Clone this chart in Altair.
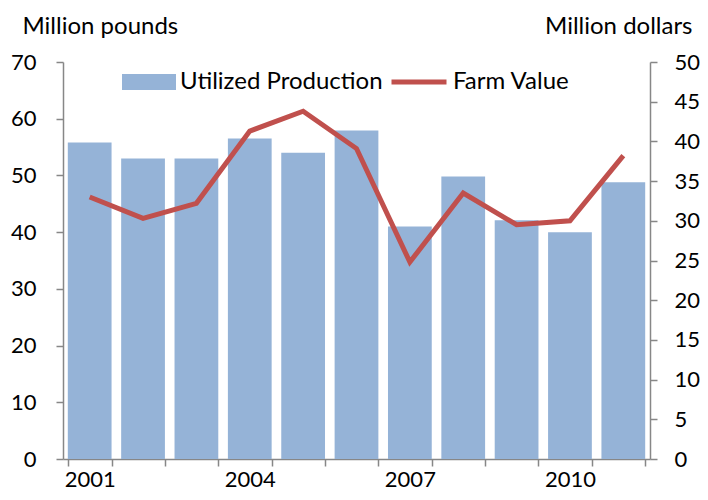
import altair as alt
import pandas as pd

years = ["2001", "2002", "2003", "2004", "2005", "2006", "2007", "2008", "2009", "2010", "2011"]
production = [55.8, 53.0, 53.0, 56.5, 54.0, 57.9, 41.0, 49.8, 42.1, 40.0, 48.8]
farm_value = [33.0, 30.3, 32.2, 41.3, 43.8, 39.1, 24.8, 33.5, 29.5, 30.0, 38.2]
shown_years = ["2001", "2004", "2007", "2010"]
left_ticks = [0, 10, 20, 30, 40, 50, 60, 70]
right_ticks = [0, 5, 10, 15, 20, 25, 30, 35, 40, 45, 50]
bar_name = "Utilized Production"
line_name = "Farm Value"

df = pd.DataFrame({
    "year": years,
    "production": production,
    "value": farm_value,
    "s1": [bar_name] * len(years),
    "s2": [line_name] * len(years),
})

FONT = "Lato"
GREY = "#878787"
label_list = "[" + ",".join("'%s'" % y for y in shown_years) + "]"

x = alt.X(
    "year:O",
    scale=alt.Scale(paddingInner=0.18, paddingOuter=0.09),
    axis=alt.Axis(
        title=None,
        tickBand="extent",
        labelAngle=0,
        labelExpr="indexof(%s, datum.label) >= 0 ? datum.label : ''" % label_list,
        labelOverlap=False,
        labelPadding=3,
        tickSize=7,
    ),
)

bars = alt.Chart(df).mark_bar(color="#95B3D7").encode(
    x=x,
    y=alt.Y(
        "production:Q",
        scale=alt.Scale(domain=[0, 70], nice=False),
        axis=alt.Axis(
            values=left_ticks,
            title="Million pounds",
            titleAngle=0,
            titleAlign="left",
            titleBaseline="alphabetic",
            titleX=-41,
            titleY=-29,
            labelPadding=20,
            tickSize=7,
            orient="left",
        ),
    ),
    fill=alt.Fill(
        "s1:N",
        scale=alt.Scale(domain=[bar_name], range=["#95B3D7"]),
        legend=alt.Legend(
            title=None,
            orient="none",
            legendX=59,
            legendY=-7,
            symbolType="M-1,-0.3H1V0.3H-1Z",
            symbolSize=2916,
            symbolStrokeWidth=0,
            symbolOpacity=1,
            labelOffset=4,
            padding=0,
        ),
    ),
)

line = alt.Chart(df).mark_line(strokeWidth=5).encode(
    x=x,
    y=alt.Y(
        "value:Q",
        scale=alt.Scale(domain=[0, 50], nice=False),
        axis=alt.Axis(
            values=right_ticks,
            title="Million dollars",
            titleAngle=0,
            titleAlign="right",
            titleBaseline="alphabetic",
            titleX=42,
            titleY=-29,
            labelPadding=17,
            tickSize=7,
            orient="right",
        ),
    ),
    stroke=alt.Stroke(
        "s2:N",
        scale=alt.Scale(domain=[line_name], range=["#C0504D"]),
        legend=alt.Legend(
            title=None,
            orient="none",
            legendX=326,
            legendY=-10,
            symbolType="stroke",
            symbolSize=3025,
            symbolStrokeWidth=5,
            labelOffset=4,
            padding=0,
        ),
    ),
)

chart = (
    alt.layer(bars, line)
    .resolve_scale(y="independent", fill="independent", stroke="independent")
    .properties(
        width=587,
        height=397,
        autosize=alt.AutoSizeParams(type="none"),
        padding={"left": 55, "top": 54, "right": 50, "bottom": 33},
    )
    .configure_view(stroke=None)
    .configure_axis(
        labelFont=FONT,
        labelFontSize=22,
        labelColor="black",
        titleFont=FONT,
        titleFontSize=24,
        titleFontWeight="normal",
        titleColor="black",
        domainColor=GREY,
        domainWidth=1.5,
        tickColor=GREY,
        tickWidth=1.5,
        grid=False,
    )
    .configure_legend(
        labelFont=FONT,
        labelFontSize=24,
        labelColor="black",
        labelLimit=400,
    )
)

chart.save("out.html", embed_options={"renderer": "svg", "actions": False})
